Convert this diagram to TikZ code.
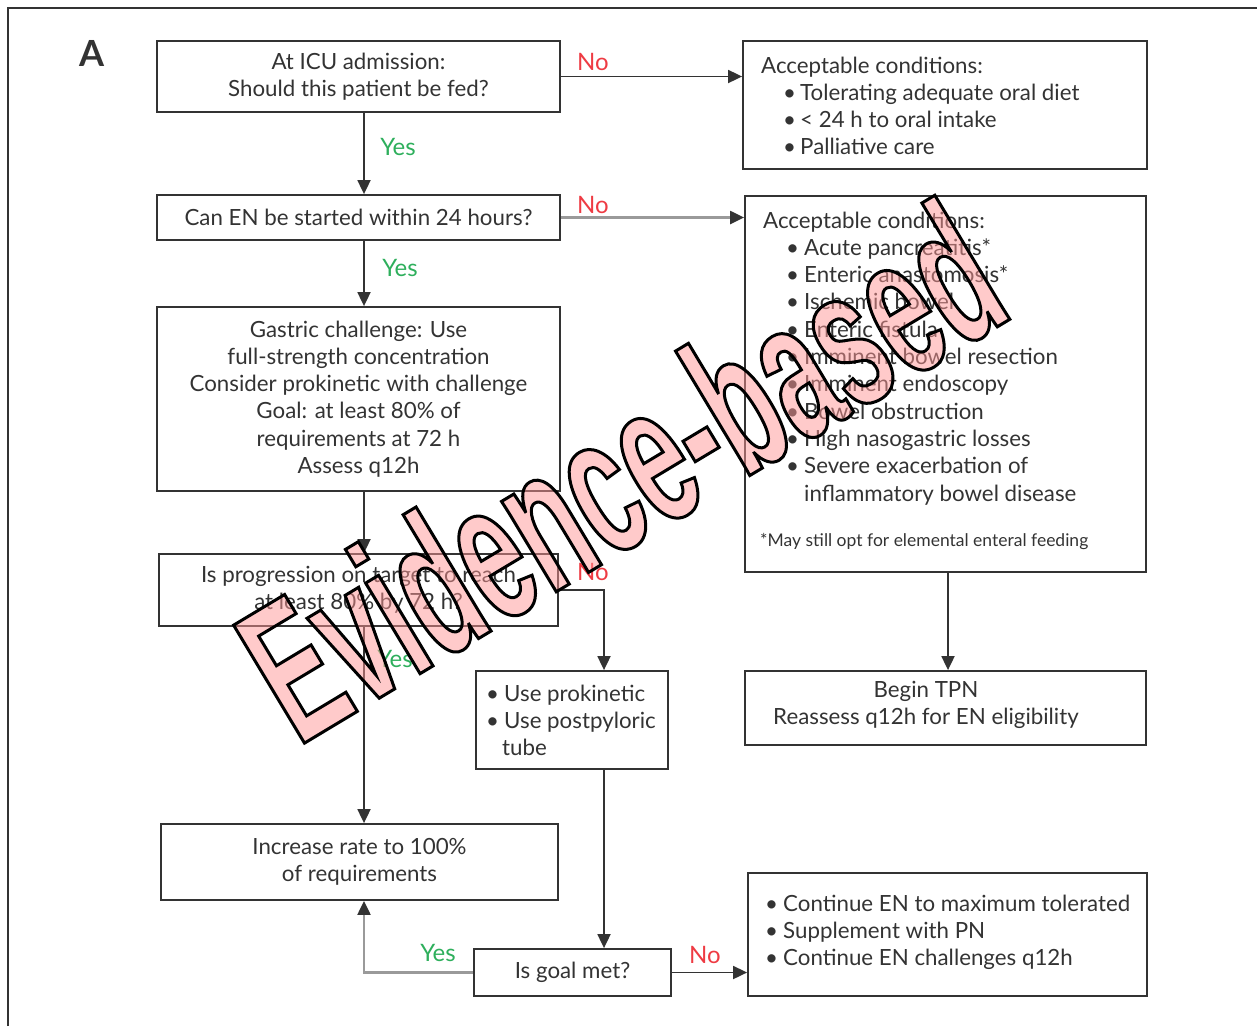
\documentclass[tikz,border=0pt]{standalone}
\usepackage{fontspec}
\setmainfont{Lato}
\newfontfamily\wmfont[FakeStretch=0.55]{Liberation Sans}
\usetikzlibrary{arrows.meta}
\definecolor{ink}{HTML}{333333}
\definecolor{yesc}{HTML}{2EAF5C}
\definecolor{noc}{HTML}{EE3B43}
\definecolor{wmpink}{RGB}{255,150,150}
\definecolor{grayline}{HTML}{9A9A9A}
\newcommand{\bul}[1]{\makebox[#1][l]{\textbullet}}
\newcommand{\lstl}[1]{\begin{tabular}[t]{@{}l@{}}#1\end{tabular}}
\newcommand{\lstc}[1]{\begin{tabular}[t]{@{}c@{}}#1\end{tabular}}
\begin{document}
\begin{tikzpicture}[x=1pt,y=-1pt,
  box/.style={draw=ink, line width=1.8pt, inner sep=0pt, text=ink,
    font=\fontsize{22.3}{27.3}\selectfont, align=center},
  txt/.style={inner sep=0pt, text=ink, font=\fontsize{22.3}{27.3}\selectfont},
  arr/.style={draw=ink, line width=1.8pt, -{Triangle[length=14pt,width=13pt]}},
  garr/.style={draw=grayline, line width=2.2pt, -{Triangle[length=14pt,width=13pt,color=ink]}},
  yes/.style={text=yesc, font=\fontsize{24}{28}\selectfont, inner sep=0pt},
  no/.style={text=noc, font=\fontsize{24}{28}\selectfont, inner sep=0pt},
  wmark/.style={rotate=31, anchor=base west, inner sep=0pt,
    font=\wmfont\bfseries\fontsize{200}{204}\selectfont}]
\useasboundingbox (0,0) rectangle (1257,1026);
% frame
\draw[ink, line width=2pt] (8,1026) -- (8,8) -- (1257,8);
\node[text=ink, font=\bfseries\fontsize{36}{40}\selectfont, inner sep=0pt] (lblA) at (92,53) {A};

\coordinate (vx) at (364,0);
\coordinate (vx2) at (604,0);
\coordinate (vx3) at (948,0);

% boxes
\node[box, minimum width=403pt, minimum height=71pt] (b1) at (358.5,76.5)
  {At ICU admission:\\Should this patient be fed?};
\node[box, minimum width=404pt, minimum height=128pt] (b2) at (945,105) {};
\node[txt, anchor=base west] (t2) at (761,73)
  {\lstl{Acceptable conditions:\\
   \hspace*{22pt}\bul{17pt}Tolerating adequate oral diet\\
   \hspace*{22pt}\bul{17pt}< 24 h to oral intake\\
   \hspace*{22pt}\bul{17pt}Palliative care}};
\node[box, minimum width=403pt, minimum height=45pt] (b3) at (358.5,217.5)
  {Can EN be started within 24 hours?};
\node[box, minimum width=401pt, minimum height=376pt] (b4) at (945.5,384) {};
\node[txt, anchor=base west] (t4) at (763,228)
  {\lstl{Acceptable conditions:\\
   \hspace*{23pt}\bul{18pt}Acute pancreatitis*\\
   \hspace*{23pt}\bul{18pt}Enteric anastomosis*\\
   \hspace*{23pt}\bul{18pt}Ischemic bowel\\
   \hspace*{23pt}\bul{18pt}Enteric fistula\\
   \hspace*{23pt}\bul{18pt}Imminent bowel resection\\
   \hspace*{23pt}\bul{18pt}Imminent endoscopy\\
   \hspace*{23pt}\bul{18pt}Bowel obstruction\\
   \hspace*{23pt}\bul{18pt}High nasogastric losses\\
   \hspace*{23pt}\bul{18pt}Severe exacerbation of\\
   \hspace*{41pt}inflammatory bowel disease}};
\node[txt, anchor=base west, font=\fontsize{17.5}{20}\selectfont] (t4f) at (760,546)
  {*May still opt for elemental enteral feeding};
\node[box, minimum width=403pt, minimum height=184pt] (b5) at (358.5,399)
  {Gastric challenge: Use\\full-strength concentration\\Consider prokinetic with challenge\\Goal: at least 80\% of\\requirements at 72 h\\Assess q12h};
\node[box, minimum width=399pt, minimum height=72pt] (b6) at (358.5,590)
  {Is progression on target to reach\\at least 80\% by 72 h?};
\node[box, minimum width=192pt, minimum height=98pt] (b7) at (572,720) {};
\node[txt, anchor=base west] (t7) at (486,701)
  {\lstl{\bul{18pt}Use prokinetic\\
   \bul{18pt}Use postpyloric\\
   \hspace*{16pt}tube}};
\node[box, minimum width=401pt, minimum height=74pt] (b8) at (945.5,708) {};
\node[txt, anchor=base] (t8) at (926,697)
  {\lstc{Begin TPN\\Reassess q12h for EN eligibility}};
\node[box, minimum width=397pt, minimum height=76pt] (b9) at (359.5,862)
  {Increase rate to 100\%\\of requirements};
\node[box, minimum width=197pt, minimum height=47pt] (b10) at (572.5,972.5)
  {Is goal met?};
\node[box, minimum width=399pt, minimum height=123pt] (b11) at (947.5,934.5) {};
\node[txt, anchor=base west] (t11) at (765,911)
  {\lstl{\bul{18pt}Continue EN to maximum tolerated\\
   \bul{18pt}Supplement with PN\\
   \bul{18pt}Continue EN challenges q12h}};

% connectors
\draw[arr] (b1.south -| vx) -- (b3.north -| vx);
\draw[arr] (b1.east) -- (b1.east -| b2.west);
\draw[garr] (b3.east) -- (b3.east -| b4.west);
\draw[arr] (b3.south -| vx) -- (b5.north -| vx);
\draw[arr] (b5.south -| vx) -- (b6.north -| vx);
\draw[arr] (b6.east) -| (b7.north -| vx2);
\draw[arr] (b6.south -| vx) -- (b9.north -| vx);
\draw[arr] (b4.south -| vx3) -- (b8.north -| vx3);
\draw[arr] (b7.south -| vx2) -- (b10.north -| vx2);
\draw[garr] (b10.west) -| (b9.south -| vx);
\draw[arr] (b10.east) -- (b10.east -| b11.west);

% labels
\node[yes] (y1) at (398,147) {Yes};
\node[no] (n1) at (593,62) {No};
\node[no] (n2) at (593,205) {No};
\node[yes] (y2) at (400,268) {Yes};
\node[no] (n3) at (593,572) {No};
\node[yes] (y3) at (395,659) {Yes};
\node[yes] (y4) at (438,953) {Yes};
\node[no] (n4) at (705,955) {No};

% watermark: translucent fill, then opaque black outline
\node[wmark, text=wmpink, text opacity=0.5] (wm) at (298,747) {Evidence-based};
\node[wmark, text=black] (wmo) at (298,747)
  {\special{pdf:literal direct 0 0 0 RG 3 w 1 Tr}Evidence-based\special{pdf:literal direct 0 Tr}};
\end{tikzpicture}
\end{document}
